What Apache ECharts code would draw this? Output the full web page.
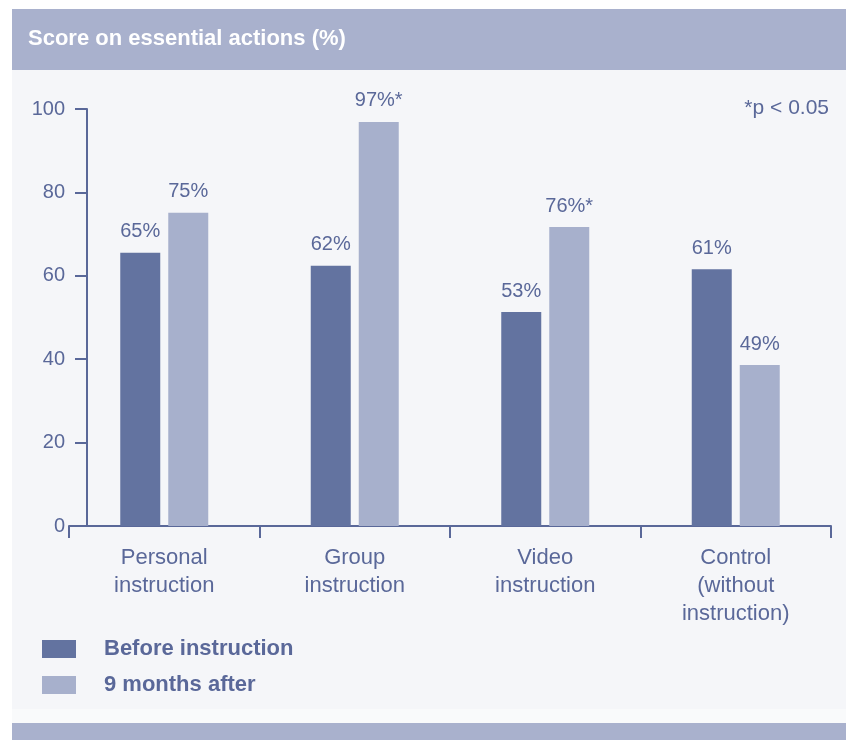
<!DOCTYPE html>
<html>
<head>
<meta charset="utf-8">
<script src="https://cdn.jsdelivr.net/npm/echarts@6/dist/echarts.min.js"></script>
<style>
html,body{margin:0;padding:0;background:#fff;}
#chart{width:846px;height:740px;}
</style>
</head>
<body>
<div id="chart"></div>
<script>
var categories = ['Personal\ninstruction', 'Group\ninstruction', 'Video\ninstruction', 'Control\n(without\ninstruction)'];
var seriesNames = ['Before instruction', '9 months after'];
var beforeValues = [65.5, 62.4, 51.3, 61.6];
var afterValues = [75.1, 96.9, 71.7, 38.6];
var beforeLabels = ['65%', '62%', '53%', '61%'];
var afterLabels = ['75%', '97%*', '76%*', '49%'];
var yTicks = [0, 20, 40, 60, 80, 100];
var titleText = 'Score on essential actions (%)';
var noteText = '*p < 0.05';

var textColor = '#5a6899';
var darkBar = '#6373a0';
var lightBar = '#a7b0cc';
var band = '#a9b1cd';
var font = '"Liberation Sans", Arial, Helvetica, sans-serif';

var chart = echarts.init(document.getElementById('chart'), null, {renderer: 'canvas'});
chart.setOption({
  backgroundColor: '#ffffff',
  animation: false,
  textStyle: {fontFamily: font},
  title: {
    text: titleText,
    left: 28, top: 28, padding: 0,
    textStyle: {color: '#ffffff', fontSize: 22, fontWeight: 'bold', fontFamily: font}
  },
  graphic: [
    {type: 'rect', z: -10, silent: true, shape: {x: 12, y: 9, width: 834, height: 61}, style: {fill: band}},
    {type: 'rect', z: -10, silent: true, shape: {x: 12, y: 70, width: 834, height: 639}, style: {fill: '#f5f6f9'}},
    {type: 'rect', z: -10, silent: true, shape: {x: 12, y: 709, width: 834, height: 14}, style: {fill: '#f9fafb'}},
    {type: 'rect', z: -10, silent: true, shape: {x: 12, y: 723, width: 834, height: 17}, style: {fill: band}},
    {type: 'text', z: 10, silent: true, x: 829, y: 108,
      style: {text: noteText, fill: textColor, font: '21px ' + font, textAlign: 'right', textVerticalAlign: 'middle'}}
  ],
  legend: {
    orient: 'vertical',
    left: 42, top: 638, padding: 0,
    itemWidth: 34, itemHeight: 18, itemGap: 14,
    icon: 'rect',
    data: seriesNames,
    textStyle: {color: textColor, fontSize: 22, fontWeight: 'bold', lineHeight: 18, padding: [0, 0, 0, 23], fontFamily: font}
  },
  grid: {left: 69, right: 15, top: 109, bottom: 214, containLabel: false},
  xAxis: {
    type: 'category',
    data: categories,
    axisLine: {lineStyle: {color: textColor, width: 2}},
    axisTick: {show: true, length: 12, lineStyle: {color: textColor, width: 2}},
    axisLabel: {color: textColor, fontSize: 22, lineHeight: 28, margin: 18, interval: 0, fontFamily: font}
  },
  yAxis: {
    type: 'value',
    min: 0, max: 100, interval: 20,
    offset: -18,
    splitLine: {show: false},
    axisLine: {show: true, lineStyle: {color: textColor, width: 2}},
    axisTick: {show: true, length: 12, lineStyle: {color: textColor, width: 2}},
    axisLabel: {color: textColor, fontSize: 20, margin: 22, fontFamily: font,
      customValues: yTicks}
  },
  series: [
    {
      name: seriesNames[0], type: 'bar', data: beforeValues,
      barWidth: 40, barGap: '20%',
      itemStyle: {color: darkBar},
      label: {show: true, position: 'top', distance: 11, color: textColor, fontSize: 20, fontFamily: font,
        formatter: function (p) { return beforeLabels[p.dataIndex]; }}
    },
    {
      name: seriesNames[1], type: 'bar', data: afterValues,
      barWidth: 40, barGap: '20%',
      itemStyle: {color: lightBar},
      label: {show: true, position: 'top', distance: 11, color: textColor, fontSize: 20, fontFamily: font,
        formatter: function (p) { return afterLabels[p.dataIndex]; }}
    }
  ]
});
</script>
</body>
</html>
